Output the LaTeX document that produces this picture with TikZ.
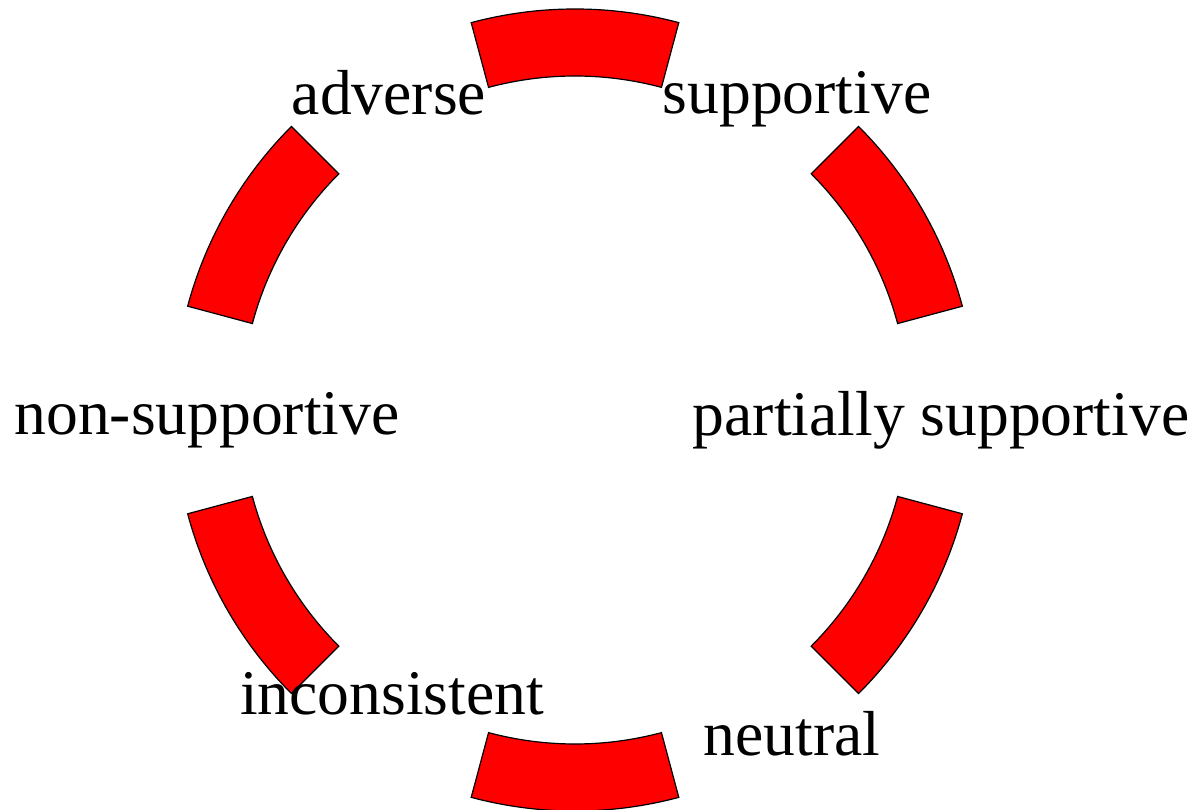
\documentclass[tikz,border=0pt]{standalone}
\usepackage{fontspec}
\setmainfont{Liberation Serif}
\usepackage{xcolor}

\tikzset{
  segment/.style={fill=red, draw=black, line width=1.2pt, line join=miter},
  lbl/.style={inner sep=0pt, anchor=base, font=\fontsize{63.6}{70}\selectfont}
}

\begin{document}
\begin{tikzpicture}[x=1pt,y=1pt]
\useasboundingbox (0,0) rectangle (1201,809);
\coordinate (ctr) at (575,399);
% ring segments
\foreach \a in {15,75,135,195,255,315}
  \draw[segment] ([shift={(\a:401)}]ctr) arc[start angle=\a, end angle=\a+30, radius=401]
    -- ([shift={(\a+30:334)}]ctr) arc[start angle=\a+30, end angle=\a, radius=334] -- cycle;
% labels
\node[lbl] (supportive) at (797,695) {supportive};
\node[lbl] (adverse) at (389,694) {adverse};
\node[lbl] (partial) at (941,373) {partially supportive};
\node[lbl] (nonsupportive) at (207,374) {non-supportive};
\node[lbl] (inconsistent) at (392,95) {inconsistent};
\node[lbl] (neutral) at (792,54) {neutral};
\end{tikzpicture}
\end{document}
